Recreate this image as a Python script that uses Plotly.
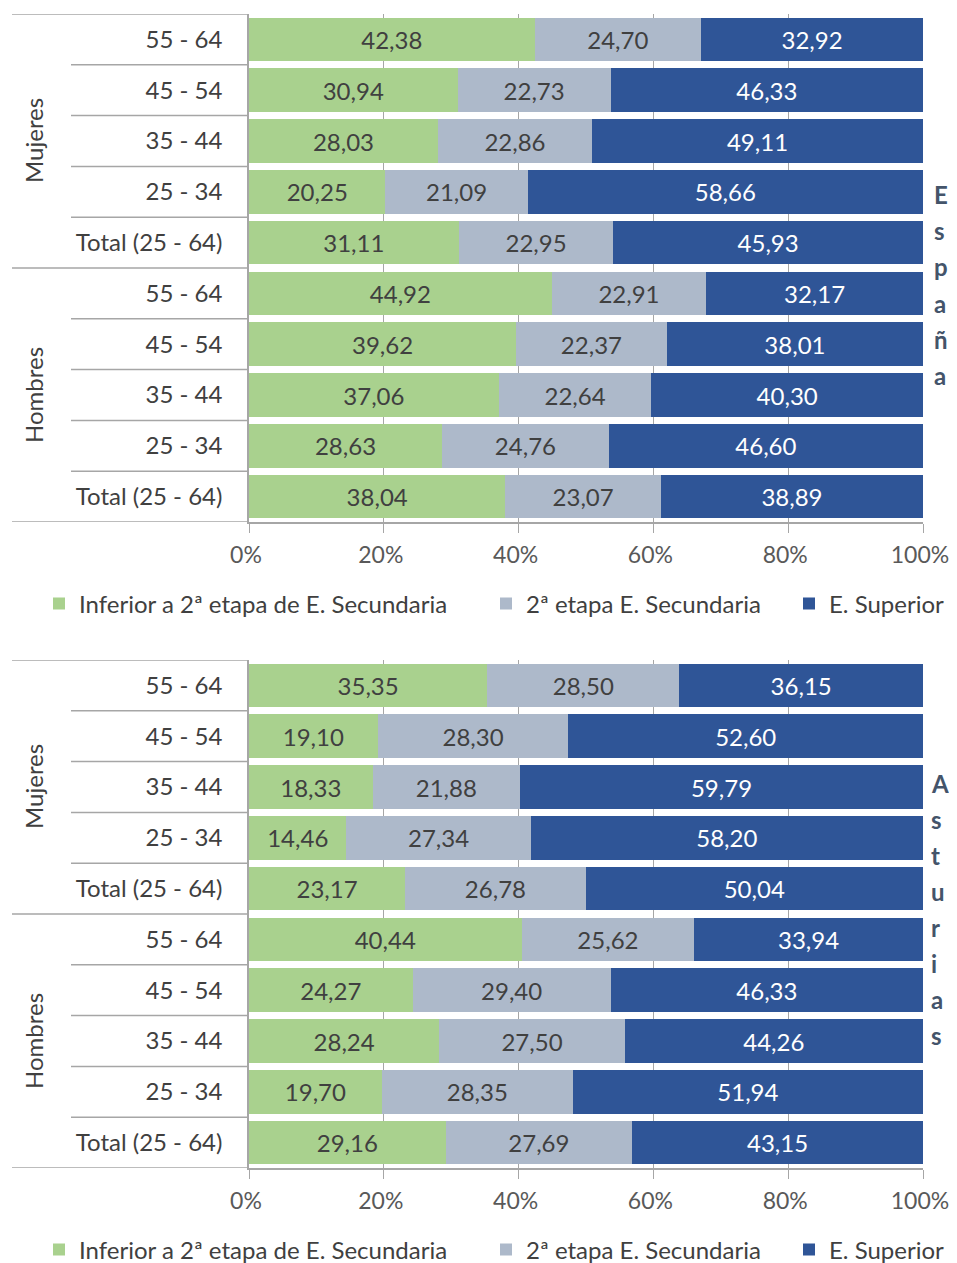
import plotly.graph_objects as go

# ---------------- data ----------------
age_labels = ["55 - 64", "45 - 54", "35 - 44", "25 - 34", "Total (25 - 64)"]
groups = ["Mujeres", "Hombres"]
series_names = ["Inferior a 2ª etapa de E. Secundaria", "2ª etapa E. Secundaria", "E. Superior"]
x_ticks = [0, 20, 40, 60, 80, 100]
x_tick_text = ["0%", "20%", "40%", "60%", "80%", "100%"]

# España (Mujeres 55-64 ... Total, then Hombres 55-64 ... Total)
espana_inferior = [42.38, 30.94, 28.03, 20.25, 31.11, 44.92, 39.62, 37.06, 28.63, 38.04]
espana_secundaria = [24.70, 22.73, 22.86, 21.09, 22.95, 22.91, 22.37, 22.64, 24.76, 23.07]
espana_superior = [32.92, 46.33, 49.11, 58.66, 45.93, 32.17, 38.01, 40.30, 46.60, 38.89]

# Asturias
asturias_inferior = [35.35, 19.10, 18.33, 14.46, 23.17, 40.44, 24.27, 28.24, 19.70, 29.16]
asturias_secundaria = [28.50, 28.30, 21.88, 27.34, 26.78, 25.62, 29.40, 27.50, 28.35, 27.69]
asturias_superior = [36.15, 52.60, 59.79, 58.20, 50.04, 33.94, 46.33, 44.26, 51.94, 43.15]

regions = ["España", "Asturias"]

# ---------------- style ----------------
W, H = 957, 1263
OFF = 8  # page body margin offset
FONT = "Lato"
FS = 24
colors = ["#A9D18E", "#ADB9CA", "#2F5597"]
text_colors = ["#404040", "#404040", "#FFFFFF"]
line_color = "#A6A6A6"

tick_text_all = age_labels * 2
positions = list(range(len(tick_text_all)))

def py(pix):
    return 1 - (pix - OFF) / H

def px(pix):
    return (pix - OFF) / W

plot_left, plot_right = 249, 923
legend_item_x = [39, 486, 789]
panels = [
    dict(top=14, bottom=522, data=[espana_inferior, espana_secundaria, espana_superior],
         ax="", legend_y=604, letter_x=932, letter_mid=285),
    dict(top=660, bottom=1168, data=[asturias_inferior, asturias_secundaria, asturias_superior],
         ax="2", legend_y=1250, letter_x=929, letter_mid=909),
]

fig = go.Figure()
layout_extra = {}
shapes = []
annotations = []
legend_count = 0

for pi, p in enumerate(panels):
    xa = "x" + p["ax"]
    ya = "y" + p["ax"]
    for si in range(3):
        legend_count += 1
        lname = "legend" if legend_count == 1 else "legend%d" % legend_count
        fig.add_trace(go.Bar(
            x=p["data"][si], y=positions, orientation="h",
            name=series_names[si], showlegend=True,
            marker=dict(color=colors[si], line=dict(width=0)),
            text=p["data"][si], texttemplate="%{x:.2f}",
            textposition="inside", insidetextanchor="middle", textangle=0,
            textfont=dict(color=text_colors[si], size=FS, family=FONT),
            xaxis=xa, yaxis=ya, legend=lname,
            hoverinfo="skip",
        ))
        layout_extra[lname] = dict(
            orientation="h", x=px(legend_item_x[si]), xanchor="left",
            y=py(p["legend_y"]), yanchor="middle",
            font=dict(size=FS, color="#404040", family=FONT),
            itemclick=False, itemdoubleclick=False, itemwidth=30,
            bgcolor="rgba(0,0,0,0)", borderwidth=0, visible=True,
        )
    layout_extra["xaxis" + p["ax"]] = dict(
        domain=[px(plot_left), px(plot_right)], range=[0, 100], anchor=ya,
        tickvals=x_ticks, ticktext=x_tick_text,
        showgrid=True, gridcolor=line_color, gridwidth=1.3,
        showline=True, linecolor=line_color, linewidth=1.5,
        ticks="outside", ticklen=9, tickcolor=line_color, tickwidth=1.3,
        ticklabelstandoff=3, ticklabelshift=-3,
        tickfont=dict(size=23, color="#595959", family=FONT),
        zeroline=False, fixedrange=True, automargin=False,
    )
    layout_extra["yaxis" + p["ax"]] = dict(
        domain=[py(p["bottom"]), py(p["top"])], range=[len(positions) - 0.5, -0.5],
        anchor=xa, tickvals=positions, ticktext=tick_text_all,
        ticks="", ticklabelstandoff=20,
        tickfont=dict(size=FS, color="#404040", family=FONT),
        showline=True, linecolor=line_color, linewidth=1.5,
        showgrid=False, zeroline=False, fixedrange=True, automargin=False,
    )
    # divider lines on the category side
    for b in range(len(positions) + 1):
        yb = b - 0.5
        is_group = b % len(age_labels) == 0
        shapes.append(dict(
            type="line", xref="paper", yref=ya,
            x0=px(12 if is_group else 71), x1=px(plot_left), y0=yb, y1=yb,
            line=dict(color=line_color, width=1.5),
        ))
    # group labels
    for gi, g in enumerate(groups):
        center = gi * len(age_labels) + (len(age_labels) - 1) / 2
        annotations.append(dict(
            text=g, xref="paper", yref=ya, x=px(33), y=center,
            textangle=-90, showarrow=False, xanchor="center", yanchor="middle",
            font=dict(size=FS, color="#404040", family=FONT),
        ))
    # vertical region name, one letter per line
    letters = list(regions[pi])
    step = 36
    start = p["letter_mid"] - step * (len(letters) - 1) / 2
    for li, ch in enumerate(letters):
        annotations.append(dict(
            text="<b>" + ch + "</b>", xref="paper", yref="paper",
            x=px(p["letter_x"]), y=py(start + li * step), showarrow=False,
            xanchor="left", yanchor="middle",
            font=dict(size=FS, color="#44546A", family=FONT),
        ))

fig.update_layout(
    width=W, height=H,
    margin=dict(l=0, r=0, t=0, b=0, pad=0, autoexpand=False),
    barmode="stack", bargap=0.14, showlegend=True,
    separators=",.",
    plot_bgcolor="white", paper_bgcolor="white",
    font=dict(family=FONT, color="#404040"),
    shapes=shapes, annotations=annotations,
    **layout_extra,
)

fig.write_html("out.html")
